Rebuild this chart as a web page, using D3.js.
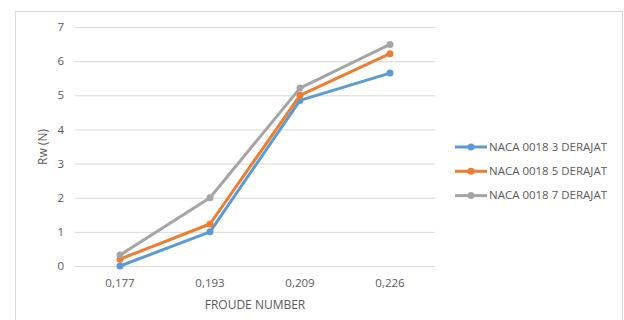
<!DOCTYPE html>
<html><head><meta charset="utf-8">
<script src="https://cdn.jsdelivr.net/npm/d3@7"></script>
<style>body{margin:0;background:#fff;} text{font-family:"Open Sans","Liberation Sans",sans-serif;fill:#595959;}</style>
</head><body><svg id="c" width="624" height="320"></svg>
<script>
const categories = ["0,177","0,193","0,209","0,226"];
const seriesNames = ["NACA 0018 3 DERAJAT","NACA 0018 5 DERAJAT","NACA 0018 7 DERAJAT"];
const series3 = [0, 1.0, 4.85, 5.65];
const series5 = [0.2, 1.23, 5.0, 6.22];
const series7 = [0.32, 2.0, 5.21, 6.49];
const yTicks = [0,1,2,3,4,5,6,7];
const colors = ["#5B9BD5","#ED7D31","#A5A5A5"];
const allSeries = [series3, series5, series7];

const svg = d3.select("#c");
svg.append("rect").attr("x",15.5).attr("y",11.5).attr("width",607).attr("height",320).attr("fill","#fff").attr("stroke","#D9D9D9");

const x = d3.scaleBand().domain(categories).range([75,435]);
const y = d3.scaleLinear().domain([0,7]).range([266,27]);

const yAxis = svg.append("g").attr("transform","translate(75,0)")
  .call(d3.axisLeft(y).tickValues(yTicks).tickFormat(d3.format("d")).tickSize(-360).tickPadding(11));
yAxis.select(".domain").remove();
yAxis.selectAll("line").attr("stroke","#D9D9D9");
yAxis.selectAll("text").style("font-size","11.5px").attr("fill","#595959");

const xAxis = svg.append("g").attr("transform","translate(0,266)")
  .call(d3.axisBottom(x).tickSize(0).tickPadding(13));
xAxis.select(".domain").remove();
xAxis.selectAll("text").style("font-size","11.5px").attr("fill","#595959");

svg.append("text").attr("x",255).attr("y",309).attr("text-anchor","middle").style("font-size","12px").text("FROUDE NUMBER");
svg.append("text").attr("transform","translate(47,147) rotate(-90)").attr("text-anchor","middle").style("font-size","12px").text("Rw (N)");

const line = d3.line().x((d,i)=>x(categories[i])+x.bandwidth()/2).y(d=>y(d));
allSeries.forEach((s,k)=>{
  svg.append("path").datum(s).attr("d",line).attr("fill","none").attr("stroke",colors[k]).attr("stroke-width",3).attr("stroke-linejoin","round");
  svg.selectAll(null).data(s).enter().append("circle")
    .attr("cx",(d,i)=>x(categories[i])+x.bandwidth()/2).attr("cy",d=>y(d)).attr("r",3.5).attr("fill",colors[k]);
});

const leg = svg.append("g");
seriesNames.forEach((n,k)=>{
  const yy = 147 + k*24.3;
  leg.append("line").attr("x1",455).attr("x2",487).attr("y1",yy).attr("y2",yy).attr("stroke",colors[k]).attr("stroke-width",3);
  leg.append("circle").attr("cx",471).attr("cy",yy).attr("r",3.5).attr("fill",colors[k]);
  leg.append("text").attr("x",489).attr("y",yy).attr("dy","0.35em").style("font-size","11px").attr("textLength",118).attr("lengthAdjust","spacingAndGlyphs").text(n);
});
</script></body></html>
